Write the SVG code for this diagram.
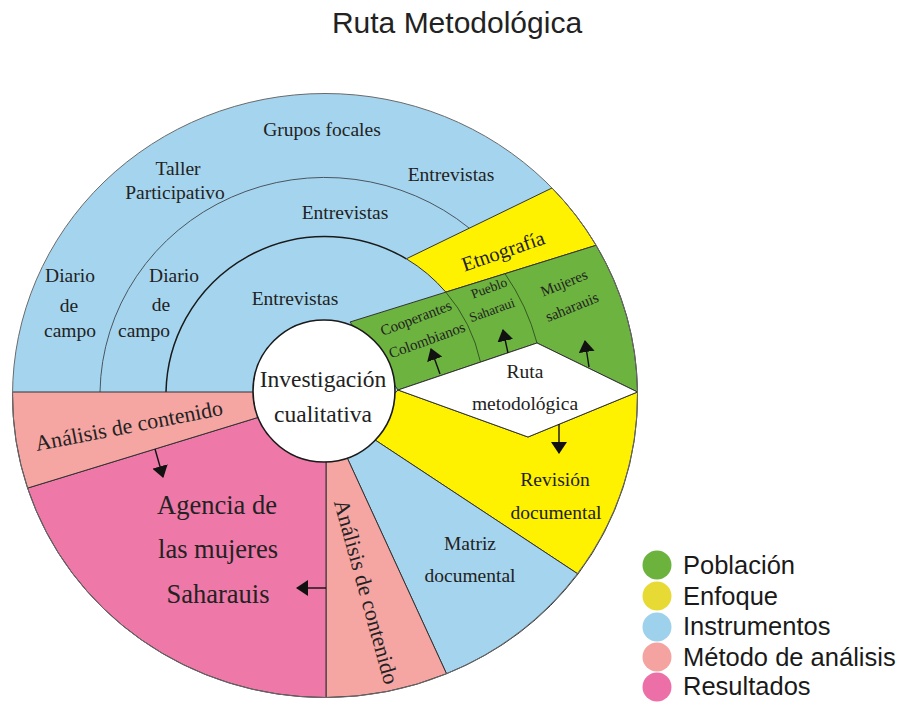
<svg xmlns="http://www.w3.org/2000/svg" width="905" height="702" viewBox="0 0 905 702">
<defs>
<style>
.t{font-family:"Liberation Serif","Times New Roman",serif;fill:#222;text-anchor:middle;font-size:19.5px}
.leg{font-family:"Liberation Sans",Arial,sans-serif;font-size:25.5px;fill:#1a1a1a}
.seg{stroke:#333;stroke-width:1;stroke-linejoin:round}
.blue{fill:#a5d5ee}.yel{fill:#fff200}.grn{fill:#6db33f}.lpk{fill:#f5a5a2}.pk{fill:#ee78a8}
.arr{stroke:#111;stroke-width:1.4;fill:none;marker-end:url(#ah)}
</style>
<marker id="ah" viewBox="0 0 12 16" refX="11" refY="8" markerWidth="12" markerHeight="16" markerUnits="userSpaceOnUse" orient="auto"><path d="M0,0 L12,8 L0,16 Z" fill="#111"/></marker>
</defs>
<rect width="905" height="702" fill="#fff"/>
<text x="457" y="33" font-family="Liberation Sans, Arial, sans-serif" font-size="30" fill="#222" text-anchor="middle">Ruta Metodológica</text>

<g id="instrumentos-superior">
<ellipse cx="325" cy="395.5" rx="312.5" ry="302" class="blue"/>
<path d="M100,392 A225 218 0 0 1 469.3,228.2" fill="none" stroke="#4a5560" stroke-width="1"/>
<path d="M166,392 A159 159 0 0 1 406.3,258.8" fill="none" stroke="#1a1a1a" stroke-width="1.5"/>
<text class="t" x="322" y="136">Grupos focales</text>
<text class="t" x="178" y="175">Taller</text>
<text class="t" x="175" y="199">Participativo</text>
<text class="t" x="451" y="181">Entrevistas</text>
<text class="t" x="345" y="219">Entrevistas</text>
<text class="t" x="295" y="305">Entrevistas</text>
<text class="t" x="70" y="282">Diario</text>
<text class="t" x="69" y="312">de</text>
<text class="t" x="70" y="337">campo</text>
<text class="t" x="174" y="282">Diario</text>
<text class="t" x="161" y="311">de</text>
<text class="t" x="144" y="337">campo</text>
</g>

<g id="etnografia">
<path class="yel seg" d="M406.3,258.8 L552,188 A312.5 302 0 0 1 596.1,245.3 L445.8,292.1 A159 159 0 0 0 406.3,258.8 Z"/>
<text class="t" transform="translate(503,251) rotate(-19)" y="7" style="font-size:20.5px">Etnografía</text>
</g>

<g id="poblacion">
<path class="grn seg" d="M350,322 L596.1,245.3 A312.5 302 0 0 1 637.5,392 L537,343 L398,390 Z"/>
<path d="M445.8,292.1 A159 159 0 0 1 480.5,362.1" fill="none" stroke="#2f4f1f" stroke-width="0.9"/>
<path d="M505,273.7 A218 218 0 0 1 537,343" fill="none" stroke="#2f4f1f" stroke-width="0.9"/>
<text class="t" style="font-size:15px" transform="translate(416,318) rotate(-21)" y="5">Cooperantes</text>
<text class="t" style="font-size:15px" transform="translate(427,340) rotate(-20)" y="5">Colombianos</text>
<text class="t" style="font-size:13.5px" transform="translate(489,288) rotate(-20)" y="4.5">Pueblo</text>
<text class="t" style="font-size:13.5px" transform="translate(492,310) rotate(-20)" y="4.5">Saharaui</text>
<text class="t" style="font-size:15px" transform="translate(564,283) rotate(-22)" y="5">Mujeres</text>
<text class="t" style="font-size:15px" transform="translate(572,307) rotate(-22)" y="5">saharauis</text>
</g>

<g id="revision-documental">
<path class="yel seg" d="M398,390 L528,437 L637.5,392 A312.5 302 0 0 1 578,574 L360,430 Z"/>
<text class="t" x="555" y="486">Revisión</text>
<text class="t" x="556" y="519">documental</text>
</g>

<g id="ruta-metodologica">
<path class="seg" fill="#fff" d="M398,390 L537,343 L637.5,392 L528,437 Z"/>
<text class="t" style="font-size:19.5px" x="525" y="378">Ruta</text>
<text class="t" style="font-size:19.5px" x="525" y="410">metodológica</text>
</g>

<g id="matriz-documental">
<path class="blue seg" d="M360,430 L578,574 A312.5 302 0 0 1 446.5,673.7 L339,440 Z"/>
<text class="t" x="470" y="550">Matriz</text>
<text class="t" x="470" y="582">documental</text>
</g>

<g id="analisis-contenido-2">
<path class="lpk seg" d="M339,440 L446.5,673.7 A312.5 302 0 0 1 326,697.5 L326,430 Z"/>
<text class="t" style="font-size:22px" transform="translate(366,592) rotate(74.5)" y="7">Análisis de contenido</text>
</g>

<g id="agencia">
<path class="pk seg" d="M326,430 L326,697.5 A312.5 302 0 0 1 27.6,488.1 L280,410.7 Z"/>
<text class="t" style="font-size:26.5px" x="217" y="514">Agencia de</text>
<text class="t" style="font-size:26.5px" x="218" y="558">las mujeres</text>
<text class="t" style="font-size:26.5px" x="218" y="603">Saharauis</text>
</g>

<g id="analisis-contenido-1">
<path class="lpk seg" d="M12.5,392 L300,392 L280,410.7 L27.6,488.1 A312.5 302 0 0 1 12.5,392 Z"/>
<text class="t" style="font-size:22px" transform="translate(129,426) rotate(-11)" y="7">Análisis de contenido</text>
</g>

<ellipse cx="325" cy="395.5" rx="312.5" ry="302" fill="none" stroke="#6a6a6a" stroke-width="1"/>

<g id="investigacion-cualitativa">
<circle cx="324" cy="391" r="71" fill="#fff" stroke="#1a1a1a" stroke-width="1.6"/>
<text class="t" style="font-size:23.5px" x="323" y="387">Investigación</text>
<text class="t" style="font-size:23.5px" x="323" y="422">cualitativa</text>
</g>

<g id="connectors">
<path class="arr" d="M440,374 L431,349"/>
<path class="arr" d="M508,353 L503,330"/>
<path class="arr" d="M589,367 L585,341"/>
<path class="arr" d="M559,424 L559,453"/>
<path class="arr" d="M155,449 L163,477"/>
<path class="arr" d="M326,588 L297,588"/>
</g>

<g id="leyenda">
<circle cx="657" cy="565" r="14.5" fill="#6cb33e"/>
<circle cx="657" cy="596" r="14.5" fill="#e8da35"/>
<circle cx="657" cy="627" r="14.5" fill="#9ed1ec"/>
<circle cx="657" cy="657" r="14.5" fill="#f4a3a1"/>
<circle cx="657" cy="687" r="14.5" fill="#ec6fa7"/>
<text class="leg" x="683" y="574">Población</text>
<text class="leg" x="683" y="605">Enfoque</text>
<text class="leg" x="683" y="635">Instrumentos</text>
<text class="leg" x="683" y="666">Método de análisis</text>
<text class="leg" x="683" y="695">Resultados</text>
</g>
</svg>
